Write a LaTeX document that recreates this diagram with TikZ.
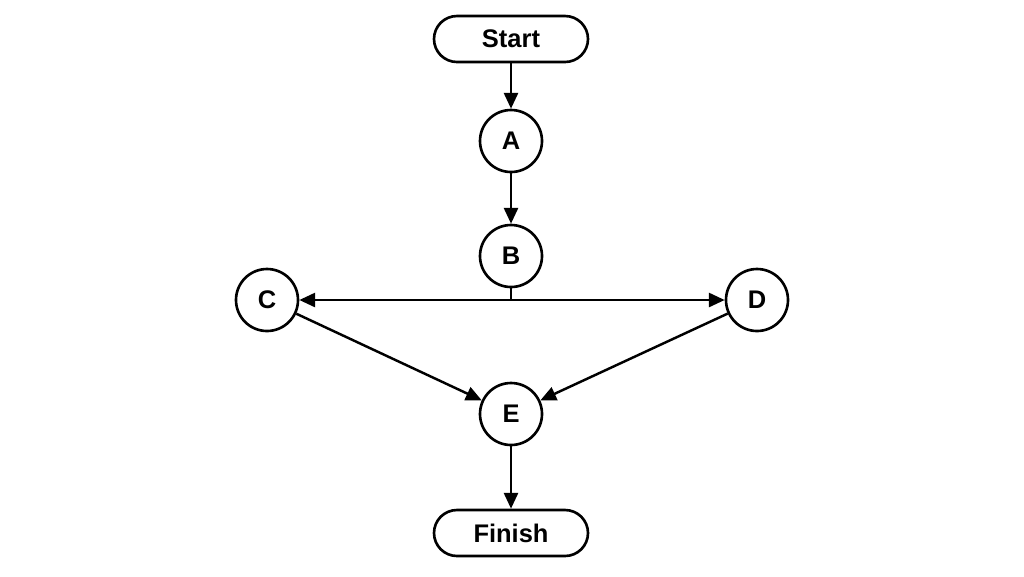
\documentclass[tikz,border=0pt]{standalone}
\usepackage{fontspec}
\setmainfont{Liberation Sans}
\usetikzlibrary{arrows.meta}
\begin{document}
\begin{tikzpicture}[x=0.02cm,y=-0.02cm,
  every node/.style={font=\fontsize{14.5}{17}\selectfont\bfseries},
  circ/.style={circle,draw,line width=1.5pt,minimum size=62*0.02cm,inner sep=0pt},
  term/.style={rounded corners=23*0.02cm,draw,line width=1.5pt,minimum width=154*0.02cm,minimum height=46*0.02cm,inner sep=0pt},
  arr/.style={line width=1.4pt,-{Triangle[length=9pt,width=8pt]}}]
\useasboundingbox (0,0) rectangle (1024,576);
\node[term] (S) at (511,39) {Start};
\node[circ] (A) at (511,141) {A};
\node[circ] (B) at (511,256) {B};
\node[circ] (C) at (267,300) {C};
\node[circ] (D) at (757,300) {D};
\node[circ] (E) at (511,414) {E};
\node[term] (F) at (511,533) {Finish};
\coordinate (J) at (511,300);
\draw[arr] (S) -- (A);
\draw[arr] (A) -- (B);
\draw[line width=1.4pt] (B) -- (J);
\draw[arr] (J) -- (C);
\draw[arr] (J) -- (D);
\draw[arr] (C) -- (E);
\draw[arr] (D) -- (E);
\draw[arr] (E) -- (F);
\end{tikzpicture}
\end{document}
